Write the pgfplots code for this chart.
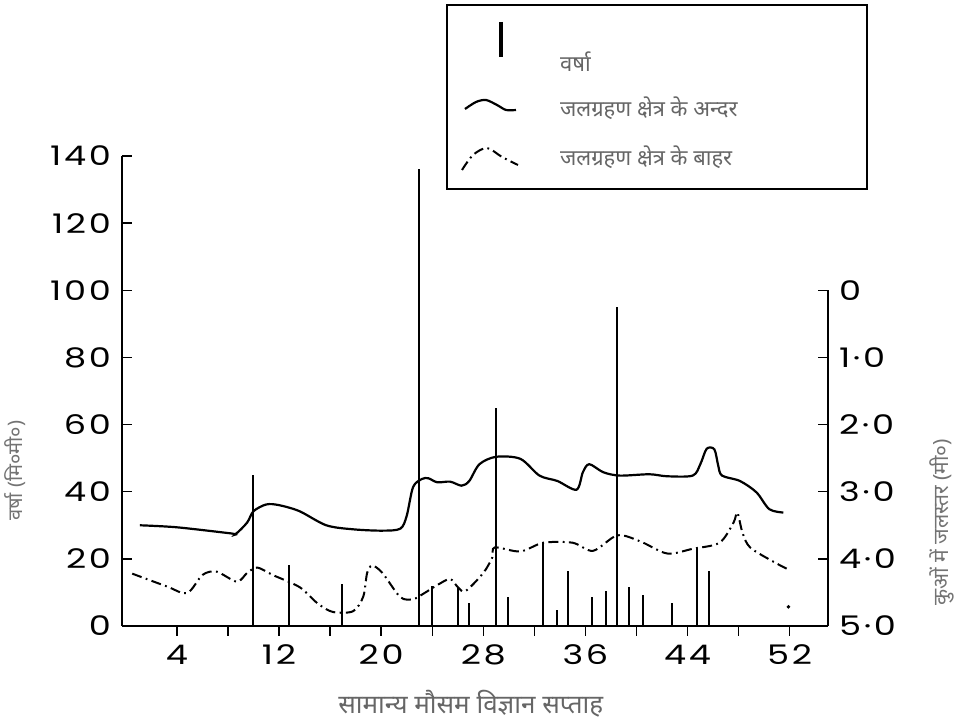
\documentclass[border=0pt]{standalone}
\usepackage{fontspec}
\usepackage{pgfplots}
\usepackage{pgfplotstable}
\pgfplotsset{compat=1.18}
\setmainfont{Noto Sans}
\newfontfamily\tickfont[LetterSpace=10, FakeStretch=1.3]{Poppins}
\newfontfamily\devfont[Script=Devanagari]{Noto Sans}

% rainfall (mm) per week
\pgfplotstableread{
week rain
9.95 45.1
12.8 18.2
16.9 12.5
23.0 136
24.0 11.9
26.0 11.3
26.9 6.9
29.0 65
29.9 8.7
32.7 24.8
33.8 4.8
34.6 16.4
36.5 8.7
37.6 10.4
38.5 94.9
39.4 11.6
40.5 9.3
42.8 6.9
44.7 23
45.7 16.4
}\raindata

% water table depth (m), inside catchment
\pgfplotstableread{
week depth
1.1 3.50
4.0 3.53
8.2 3.62
8.6 3.63
9.5 3.46
10.0 3.29
11.0 3.19
12.0 3.20
13.6 3.29
15.7 3.50
17.8 3.56
20.1 3.58
21.5 3.55
22.0 3.36
22.5 2.93
23.2 2.81
23.7 2.80
24.4 2.86
25.4 2.85
26.3 2.91
26.9 2.84
27.7 2.59
29.0 2.48
30.9 2.51
32.4 2.76
33.8 2.84
35.3 2.97
35.8 2.71
36.3 2.59
37.4 2.71
38.7 2.76
41.0 2.74
42.4 2.77
44.4 2.76
45.0 2.59
45.5 2.36
46.1 2.37
46.4 2.61
46.7 2.76
48.1 2.84
49.4 3.01
50.4 3.26
51.5 3.31
}\inside

% water table depth (m), outside catchment
\pgfplotstableread{
week depth
0.5 4.22
3.2 4.41
4.8 4.51
6.0 4.24
7.1 4.19
8.7 4.34
9.5 4.21
10.3 4.13
11.5 4.24
13.6 4.42
15.0 4.66
16.2 4.79
17.8 4.78
18.6 4.56
18.9 4.21
19.3 4.10
20.1 4.21
21.5 4.57
22.5 4.60
23.3 4.52
24.4 4.39
25.4 4.30
26.0 4.42
26.6 4.48
28.0 4.21
28.7 3.98
28.9 3.83
30.9 3.89
32.7 3.76
35.0 3.76
36.6 3.88
38.5 3.65
40.3 3.74
42.4 3.92
44.4 3.85
46.5 3.76
47.6 3.46
47.9 3.31
48.3 3.61
48.9 3.83
50.7 4.04
51.8 4.15
}\outside

\pgfplotsset{
  base/.style={
    at={(61pt,50.5pt)}, anchor=south west,
    scale only axis, width=353pt, height=235pt,
    xmin=-0.3, xmax=55,
    clip=false,
    axis line style={-, line width=0.9pt},
    major tick length=5pt, minor tick length=5pt,
    tick style={line width=0.7pt, black},
    ticklabel style={font=\tickfont\fontsize{13.5}{13.5}\selectfont},
    /pgf/number format/assume math mode=true,
  },
}
\tikzset{dashdot/.style={dash pattern=on 5pt off 2.2pt on 0.9pt off 2.2pt}}

\begin{document}
\begin{tikzpicture}
\useasboundingbox (0,0) rectangle (477pt,363.5pt);

% rainfall, left axis
\begin{axis}[base,
  ymin=0, ymax=140,
  axis x line*=bottom, axis y line*=left,
  tick align=inside,
  xtick=\empty,
  ytick={0,20,...,140},
  yticklabel style={xshift=-2pt},
  every axis y label/.style={at={(axis description cs:-0.152,0.33)}, rotate=90, anchor=center},
  ylabel={\devfont\fontsize{10}{12}\selectfont\color{black!55} वर्षा (मि०मी०)},
]
\addplot[ycomb, line width=1pt] table[x=week, y=rain] {\raindata};
\addplot[only marks, mark=*, mark size=0.7pt] coordinates {(51.9,5.7)};
\end{axis}

% week axis, ticks outside
\begin{axis}[base,
  ymin=0, ymax=140,
  axis x line*=bottom, axis y line=none,
  tick align=outside,
  xtick={4,12,...,52}, minor xtick={8,16,...,48},
  xticklabel style={yshift=-1pt},
  every axis x label/.style={at={(axis description cs:0.494,-0.166)}, anchor=center},
  xlabel={\devfont\fontsize{13}{15}\selectfont\color{black!60} सामान्य मौसम विज्ञान सप्ताह},
]
\addplot[ycomb, draw=none] table[x=week, y=rain] {\raindata};
\end{axis}

% water table depth, right axis
\begin{axis}[base,
  ymin=-2, ymax=5, y dir=reverse,
  axis x line=none, axis y line*=right,
  y axis line style={draw=none},
  tick align=inside,
  ytick={0,1,2,3,4,5},
  yticklabels={0,1·0,2·0,3·0,4·0,5·0},
  yticklabel style={anchor=west, xshift=2pt},
  every axis y label/.style={at={(axis description cs:1.162,0.221)}, rotate=90, anchor=center},
  ylabel={\devfont\fontsize{10.5}{12}\selectfont\color{black!55} कुओं में जलस्तर (मी०)},
]
\draw[line width=0.9pt] (axis cs:55,5) -- (axis cs:55,0);
\addplot[smooth, tension=0.5, line width=1.1pt] table[x=week, y=depth] {\inside};
\addplot[smooth, tension=0.5, line width=1pt, dashdot] table[x=week, y=depth] {\outside};
\end{axis}

% legend, in image pixel units
\begin{scope}[x=0.5pt, y=-0.5pt, shift={(0,363.5pt)}]
\draw[line width=0.8pt] (447,5) rectangle (867,189);
\draw[line width=1.8pt] (501,22) -- (501,57);
\draw[line width=1.1pt] plot[smooth] coordinates {(465,109) (476,102) (486,100) (497,105) (506,110) (516,110)};
\draw[line width=1pt, dashdot] plot[smooth] coordinates {(462,170) (473,155) (487,148) (502,157) (518,165)};
\begin{scope}[every node/.style={anchor=west, font=\devfont\fontsize{11}{13}\selectfont, text=black!60}]
\node at (553,62) {वर्षा};
\node at (553,108) {जलग्रहण क्षेत्र के अन्दर};
\node at (553,157) {जलग्रहण क्षेत्र के बाहर};
\end{scope}
\end{scope}
\end{tikzpicture}
\end{document}
